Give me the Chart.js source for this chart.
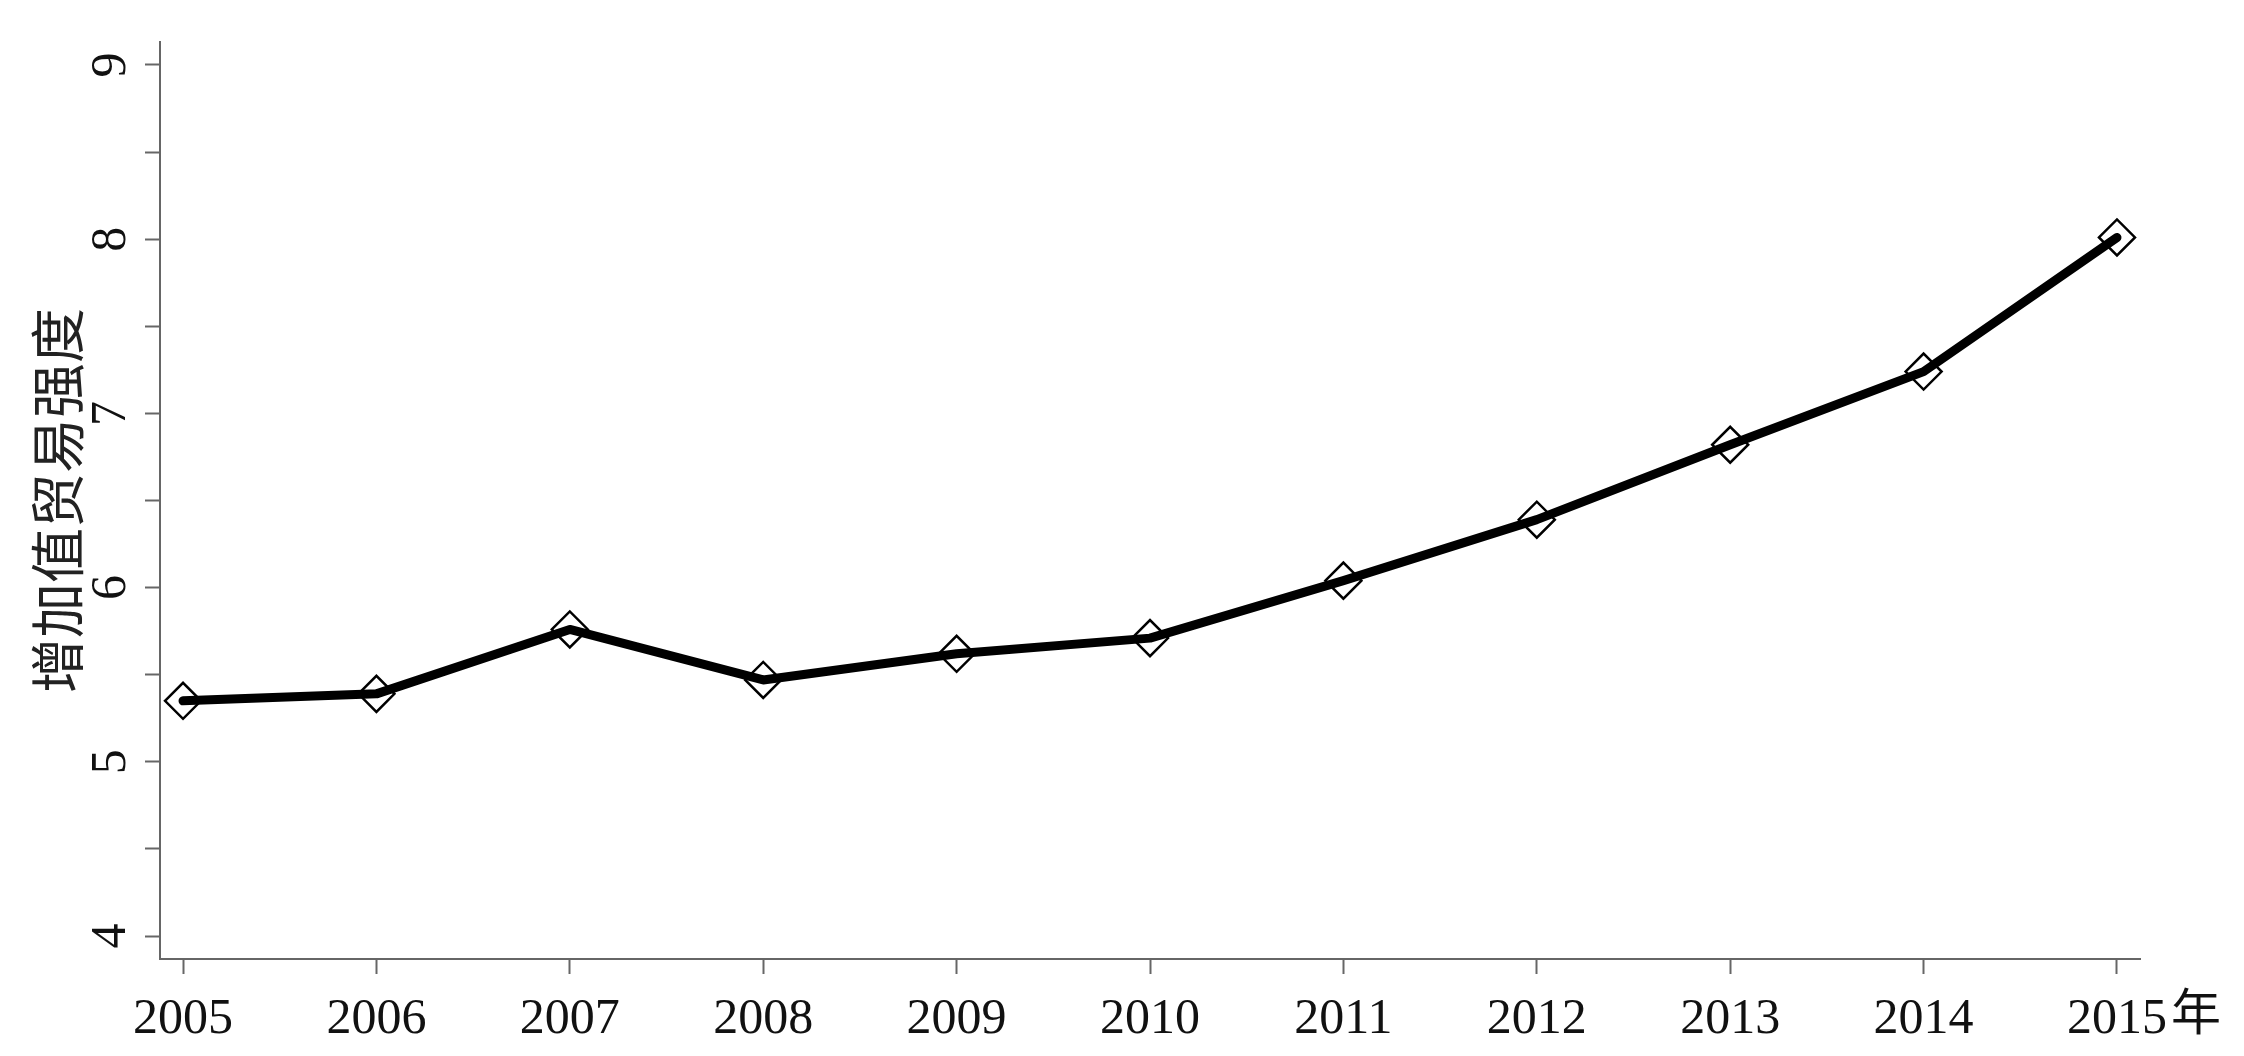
<!DOCTYPE html>
<html lang="zh-CN">
<head>
<meta charset="utf-8">
<title>增加值贸易强度</title>
<script src="https://cdn.jsdelivr.net/npm/chart.js@4.4.1/dist/chart.umd.min.js"></script>
<style>
  html, body { margin: 0; padding: 0; background: #fff; }
  #wrap { width: 2244px; height: 1056px; }
</style>
</head>
<body>
<div id="wrap"><canvas id="grafico" width="2244" height="1056"></canvas></div>
<script>
// datos
const years = [2005, 2006, 2007, 2008, 2009, 2010, 2011, 2012, 2013, 2014, 2015];
const intensity = [5.35, 5.39, 5.76, 5.47, 5.62, 5.71, 6.04, 6.39, 6.82, 7.24, 8.01];
const yTickValues = [4, 4.5, 5, 5.5, 6, 6.5, 7, 7.5, 8, 8.5, 9];
const yLabelValues = [4, 5, 6, 7, 8, 9];
const yTitle = '增加值贸易强度';
const xUnit = '年';

const SERIF = "'Liberation Serif', 'DejaVu Serif', serif";
const CJK = "'Noto Sans CJK SC', sans-serif";
const AXIS = '#666';

// etiquetas del eje y giradas + el "年" tras el ultimo año
const extraLabels = {
  id: 'extraLabels',
  afterDraw(chart) {
    const ctx = chart.ctx;
    const ys = chart.scales.y;
    const xs = chart.scales.x;
    ctx.save();
    ctx.fillStyle = '#111';
    ctx.font = '50px ' + SERIF;
    ctx.textAlign = 'center';
    ctx.textBaseline = 'middle';
    yLabelValues.forEach(v => {
      const py = ys.getPixelForValue(v);
      ctx.save();
      ctx.translate(ys.right - 48, py);
      ctx.rotate(-Math.PI / 2);
      ctx.fillText(String(v), 0, 0);
      ctx.restore();
    });

    const last = years[years.length - 1];
    const px = xs.getPixelForValue(last);
    const w = ctx.measureText(String(last)).width;
    ctx.font = '50px ' + CJK;
    ctx.textAlign = 'left';
    ctx.textBaseline = 'alphabetic';
    ctx.fillText(xUnit, px + w / 2 + 4, xs.top + 71);
    ctx.restore();
  }
};

const ctx = document.getElementById('grafico').getContext('2d');
new Chart(ctx, {
  type: 'line',
  data: {
    datasets: [{
      data: years.map((yr, i) => ({ x: yr, y: intensity[i] })),
      borderColor: '#000',
      borderWidth: 9,
      borderJoinStyle: 'round',
      borderCapStyle: 'round',
      tension: 0,
      pointStyle: 'rectRot',
      pointRadius: 18,
      pointBorderWidth: 2.5,
      pointBorderColor: '#000',
      pointBackgroundColor: 'rgba(0,0,0,0)',
      clip: false
    }]
  },
  options: {
    responsive: false,
    animation: false,
    devicePixelRatio: 1,
    layout: { padding: { left: 0, top: 42, right: 104, bottom: 0 } },
    plugins: { legend: { display: false }, tooltip: { enabled: false } },
    scales: {
      x: {
        type: 'linear',
        min: 2004.881,
        max: 2015.119,
        afterBuildTicks: s => { s.ticks = years.map(v => ({ value: v })); },
        afterFit: s => { s.height = 97; },
        ticks: {
          callback: v => String(v),
          font: { family: SERIF, size: 50 },
          color: '#111',
          padding: 16,
          maxRotation: 0,
          autoSkip: false
        },
        grid: { drawOnChartArea: false, tickLength: 15, tickColor: AXIS, tickWidth: 2 },
        border: { color: AXIS, width: 2 }
      },
      y: {
        min: 3.868,
        max: 9.132,
        afterBuildTicks: s => { s.ticks = yTickValues.map(v => ({ value: v })); },
        afterFit: s => { s.width = 160; },
        ticks: { display: false },
        grid: { drawOnChartArea: false, tickLength: 15, tickColor: AXIS, tickWidth: 2 },
        border: { color: AXIS, width: 2 },
        title: {
          display: true,
          text: yTitle,
          font: { family: CJK, size: 55 },
          color: '#222',
          padding: { top: 24, bottom: 0 }
        }
      }
    }
  },
  plugins: [extraLabels]
});
</script>
</body>
</html>
